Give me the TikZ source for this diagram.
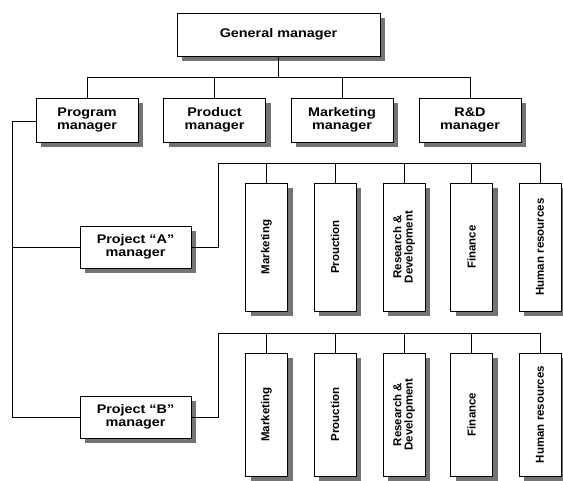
\documentclass[tikz,border=0pt]{standalone}
\usepackage{fontspec}
\setmainfont{Liberation Sans}
\newfontfamily\largesans[FakeStretch=1.15,Ligatures=TeX]{Liberation Sans}
\tikzset{
  boite/.style={draw,line width=0.6pt,fill=white,align=center,inner sep=1pt,
    font=\largesans\bfseries\fontsize{12.5}{13.5}\selectfont},
  service/.style={boite,font=\bfseries\fontsize{11.5}{12}\selectfont},
  lien/.style={draw,line width=0.6pt},
  ombrage/.style={fill=black!55}
}
\newcommand{\vtxt}[1]{\rotatebox{90}{#1}}
% style, nom, x, y, largeur, hauteur, texte
\newcommand{\caisse}[7]{%
  \fill[ombrage] ({#3-#5/2+5},{#4-#6/2+5}) rectangle ({#3+#5/2+5},{#4+#6/2+5});
  \node[#1,minimum width=#5pt,minimum height=#6pt] (#2) at (#3,#4) {#7};}
\begin{document}
\begin{tikzpicture}[x=1pt,y=-1pt]
	\useasboundingbox (0,0) rectangle (563,481); % cadre de l'image
	\caisse{boite}{gm}{278.5}{34.5}{203}{43}{General manager}
	\caisse{boite}{pm}{87}{120}{102}{44}{Program\\manager}
	\caisse{boite}{prod}{214.5}{120}{102}{44}{Product\\manager}
	\caisse{boite}{mkt}{342}{120}{102}{44}{Marketing\\manager}
	\caisse{boite}{rd}{470}{120}{102}{44}{R\&D\\manager}
	\caisse{boite}{pa}{135.5}{247}{111}{42}{Project “A”\\manager}
	\caisse{boite}{pb}{135.5}{417}{111}{42}{Project “B”\\manager}
	% services du projet A
	\caisse{service}{a1}{266.5}{247}{42}{128}{\vtxt{Marketing}}
	\caisse{service}{a2}{335}{247}{42}{128}{\vtxt{Prouction}}
	\caisse{service}{a3}{404}{247}{42}{128}{\vtxt{\shortstack{Research \&\\Development}}}
	\caisse{service}{a4}{471.5}{247}{42}{128}{\vtxt{Finance}}
	\caisse{service}{a5}{540}{247}{42}{128}{\vtxt{Human resources}}
	% services du projet B (coupes en bas)
	\caisse{service}{b1}{266.5}{414.5}{42}{123}{\vtxt{Marketing}}
	\caisse{service}{b2}{335}{414.5}{42}{123}{\vtxt{Prouction}}
	\caisse{service}{b3}{404}{414.5}{42}{123}{\vtxt{\shortstack{Research \&\\Development}}}
	\caisse{service}{b4}{471.5}{414.5}{42}{123}{\vtxt{Finance}}
	\caisse{service}{b5}{540}{414.5}{42}{123}{\vtxt{Human resources}}
	\coordinate (gmbus) at (278.5,77);
	\coordinate (pmbus) at (12,121);
	\coordinate (pabus) at (218,163);
	\coordinate (pbbus) at (218,333);
	\draw[lien] (gm.south) -- (gmbus); % tronc du directeur
	\foreach \n in {pm,prod,mkt,rd} \draw[lien] (gmbus) -| (\n.north);
	\draw[lien] (pm.west |- pmbus) -- (pmbus) |- (pa.west);
	\draw[lien] (pmbus) |- (pb.west);
	\draw[lien] (pa.east) -| (pabus) -- (a5.north |- pabus);
	\draw[lien] (pb.east) -| (pbbus) -- (b5.north |- pbbus);
	\foreach \i in {1,...,5} {
		\draw[lien] (a\i.north) -- (a\i.north |- pabus);
		\draw[lien] (b\i.north) -- (b\i.north |- pbbus);
	}
\end{tikzpicture}
\end{document}
